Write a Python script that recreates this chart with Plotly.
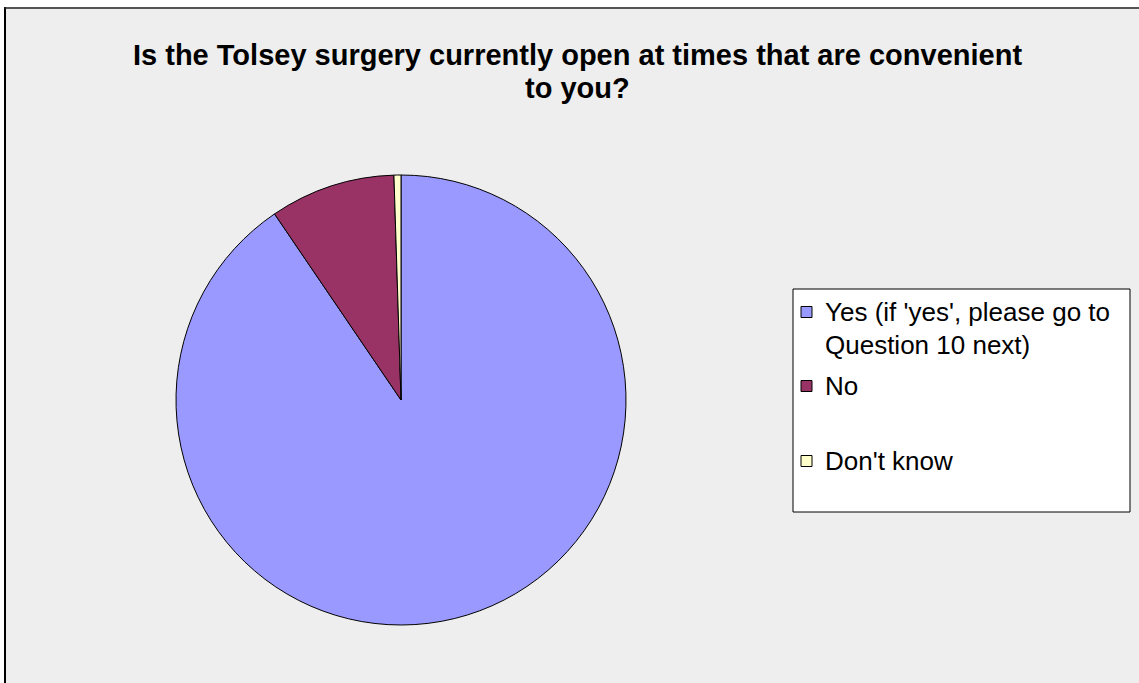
import plotly.graph_objects as go

W, H = 1139, 683

# ---- data ----
labels = ["Yes (if 'yes', please go to<br>Question 10 next)", "No", "Don't know"]
values = [90.5, 9.0, 0.5]
colors = ["#9999FF", "#993366", "#FFFFCC"]
title_text = "Is the Tolsey surgery currently open at times that are convenient<br>to you?"

# ---- layout helpers (pixel -> paper) ----
def px_x(x):
    return x / W


def px_y(y):
    return 1 - y / H


FONT = "Liberation Sans, Arial, sans-serif"

fig = go.Figure(
    go.Pie(
        labels=labels,
        values=values,
        sort=False,
        direction="clockwise",
        rotation=0,
        marker=dict(colors=colors, line=dict(color="black", width=1)),
        textinfo="none",
        hoverinfo="label+percent",
        domain=dict(x=[px_x(176), px_x(626)], y=[px_y(625), px_y(175)]),
        showlegend=False,
    )
)

shapes = []
annotations = []

# white strips outside chart-area border
shapes.append(dict(type="rect", xref="paper", yref="paper", x0=0, x1=1, y0=px_y(7), y1=1,
                   fillcolor="white", line=dict(width=0), layer="above"))
shapes.append(dict(type="rect", xref="paper", yref="paper", x0=0, x1=px_x(4), y0=0, y1=1,
                   fillcolor="white", line=dict(width=0), layer="above"))
# chart-area border (left & top visible)
shapes.append(dict(type="line", xref="paper", yref="paper", x0=px_x(5), x1=px_x(5), y0=0, y1=px_y(7),
                   line=dict(color="black", width=2), layer="above"))
shapes.append(dict(type="line", xref="paper", yref="paper", x0=px_x(4), x1=1, y0=px_y(8), y1=px_y(8),
                   line=dict(color="#222222", width=1.5), layer="above"))

# manual legend box
shapes.append(dict(type="rect", xref="paper", yref="paper",
                   x0=px_x(793), x1=px_x(1130), y0=px_y(512), y1=px_y(289),
                   fillcolor="white", line=dict(color="black", width=1), layer="above"))

legend_first_line_y = [312, 386, 461]
line_step = 33
sw = 11
for lab, col, y0 in zip(labels, colors, legend_first_line_y):
    shapes.append(dict(type="rect", xref="paper", yref="paper",
                       x0=px_x(801), x1=px_x(801 + sw), y0=px_y(y0 + sw / 2), y1=px_y(y0 - sw / 2),
                       fillcolor=col, line=dict(color="black", width=1), layer="above"))
    for i, line in enumerate(lab.split("<br>")):
        annotations.append(dict(text=line, xref="paper", yref="paper", x=px_x(823), y=px_y(y0 + i * line_step),
                                xanchor="left", yanchor="middle", showarrow=False, align="left",
                                font=dict(family=FONT, size=26, color="black")))

# title (one annotation per line)
title_line_y = [55, 88]
for line, ty in zip(title_text.split("<br>"), title_line_y):
    annotations.append(dict(text="<b>" + line + "</b>", xref="paper", yref="paper",
                            x=px_x(577), y=px_y(ty), xanchor="center", yanchor="middle",
                            showarrow=False, align="center",
                            font=dict(family=FONT, size=29, color="black")))

fig.update_layout(
    width=W,
    height=H,
    margin=dict(l=0, r=0, t=0, b=0),
    paper_bgcolor="#EEEEEE",
    plot_bgcolor="#EEEEEE",
    showlegend=False,
    shapes=shapes,
    annotations=annotations,
)

fig.write_html("out.html", config={"displayModeBar": False},
               post_script="document.body.style.margin='0';")
